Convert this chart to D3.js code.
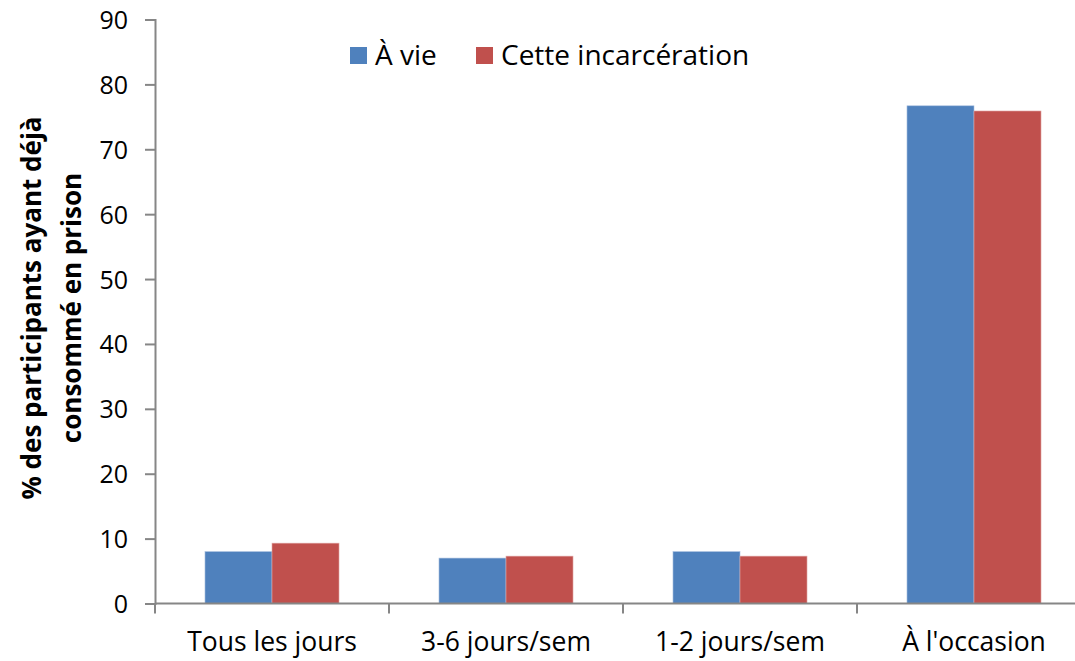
<!DOCTYPE html>
<html>
<head>
<meta charset="utf-8">
<script src="https://cdn.jsdelivr.net/npm/d3@7"></script>
<style>
  body { margin: 0; background: #fff; }
  text { font-family: "Open Sans", "Liberation Sans", sans-serif; fill: #000; }
</style>
</head>
<body>
<script>
const categories = ['Tous les jours', '3-6 jours/sem', '1-2 jours/sem', "À l'occasion"];
const seriesNames = ['À vie', 'Cette incarcération'];
const aVie = [8.0, 7.0, 8.0, 76.7];
const cetteIncarceration = [9.3, 7.3, 7.3, 75.9];
const yTicks = [0, 10, 20, 30, 40, 50, 60, 70, 80, 90];
const colors = ['#4F81BD', '#C0504D'];

const width = 1075, height = 661;
const margin = { left: 155, top: 19.5, bottom: 57 };

const svg = d3.select('body')
    .append('svg')
    .attr('width', width)
    .attr('height', height);

const rows = categories.map((c, i) => ({ cat: c, values: [aVie[i], cetteIncarceration[i]] }));

// the plot runs past the right edge of the picture, same as the original
const x0 = d3.scaleBand()
    .domain(categories)
    .range([margin.left, margin.left + 4 * 234]);

const x1 = d3.scaleBand()
    .domain(seriesNames)
    .range([0, x0.bandwidth()])
    .paddingOuter(0.746);

const y = d3.scaleLinear()
    .domain([0, 90])
    .range([height - margin.bottom - 0.5, margin.top]);

// bars
const groups = svg.selectAll('.grp')
    .data(rows)
    .join('g')
    .attr('class', 'grp')
    .attr('transform', d => `translate(${x0(d.cat)},0)`);

groups.selectAll('rect')
    .data(d => d.values.map((v, i) => ({ name: seriesNames[i], v: v, i: i })))
    .join('rect')
    .attr('x', d => x1(d.name))
    .attr('width', x1.bandwidth())
    .attr('y', d => y(d.v))
    .attr('height', d => y(0) - y(d.v))
    .attr('fill', d => colors[d.i])
    .attr('stroke', d => d.i === 0 ? '#a9c0df' : '#e0a8a6')
    .attr('stroke-width', 0.6);

// y axis
const yAxis = svg.append('g')
    .attr('transform', `translate(${margin.left},0)`)
    .call(d3.axisLeft(y).tickValues(yTicks).tickSize(10).tickPadding(17));
yAxis.selectAll('text').style('font-size', '25px').attr('dy', '0.36em');

// x axis
const xAxis = svg.append('g')
    .attr('transform', `translate(0,${y(0)})`)
    .call(d3.axisBottom(x0).tickSize(0));
xAxis.selectAll('text')
    .style('font-size', '26.5px')
    .attr('y', 651 - y(0))
    .attr('dy', 0);
xAxis.selectAll('.tick line').remove();
// category separators
xAxis.selectAll('.sep')
    .data(categories)
    .join('line')
    .attr('class', 'sep')
    .attr('x1', d => x0(d)).attr('x2', d => x0(d))
    .attr('y1', 0).attr('y2', 10);

svg.selectAll('.domain, .tick line, .sep')
    .attr('stroke', '#868686')
    .attr('stroke-width', 2);
xAxis.select('.domain').attr('d', `M${margin.left},0H${margin.left + 4 * 234}`);

// y axis title
const title = svg.append('text')
    .attr('transform', `translate(0,308) rotate(-90)`)
    .attr('text-anchor', 'middle')
    .style('font-size', '26px')
    .style('font-weight', 'bold');
title.append('tspan').attr('x', 0).attr('y', 41).text('% des participants ayant déjà');
title.append('tspan').attr('x', 0).attr('y', 81).text('consommé en prison');

// legend
const legend = svg.append('g').attr('transform', 'translate(350,47)');
const legX = [0, 126];
seriesNames.forEach((s, i) => {
    legend.append('rect')
        .attr('x', legX[i]).attr('y', 0)
        .attr('width', 17).attr('height', 17)
        .attr('fill', colors[i]);
    legend.append('text')
        .attr('x', legX[i] + 25).attr('y', 18)
        .style('font-size', '28px')
        .text(s);
});
</script>
</body>
</html>
